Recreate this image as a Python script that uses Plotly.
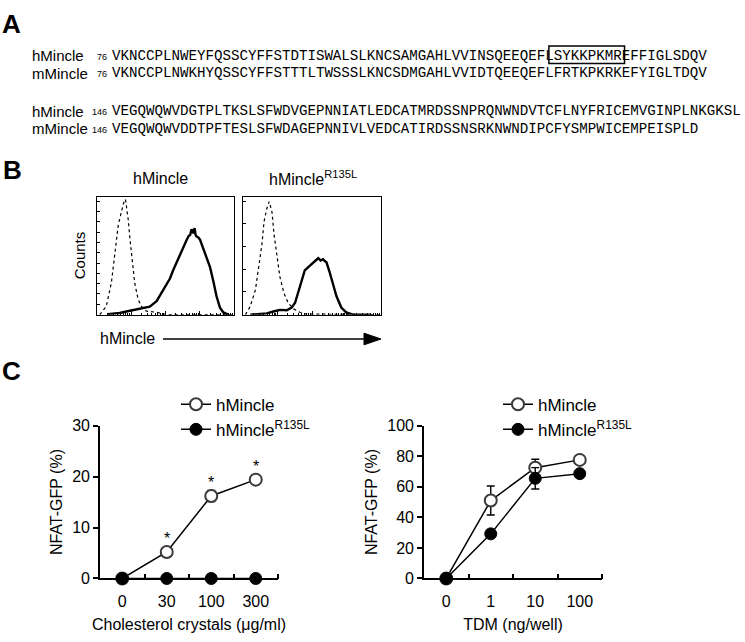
import plotly.graph_objects as go

W, H = 745, 642
def X(px): return px / W
def Y(py): return 1 - py / H

SANS = "Liberation Sans, Arial, Helvetica, sans-serif"
MONO = "Liberation Mono, Courier New, monospace"

# ---------------- Panel A data ----------------
seq_names = ["hMincle", "mMincle", "hMincle", "mMincle"]
seq_starts = ["76", "76", "146", "146"]
seq_texts = [
    "VKNCCPLNWEYFQSSCYFFSTDTISWALSLKNCSAMGAHLVVINSQEEQEFLSYKKPKMREFFIGLSDQV",
    "VKNCCPLNWKHYQSSCYFFSTTTLTWSSSLKNCSDMGAHLVVIDTQEEQEFLFRTKPKRKEFYIGLTDQV",
    "VEGQWQWVDGTPLTKSLSFWDVGEPNNIATLEDCATMRDSSNPRQNWNDVTCFLNYFRICEMVGINPLNKGKSL",
    "VEGQWQWVDDTPFTESLSFWDAGEPNNIVLVEDCATIRDSSNSRKNWNDIPCFYSMPWICEMPEISPLD",
]
boxed_motif = "LSYKKPKMR"

# ---------------- Panel B data (log10 intensity, % of max counts) ----------------
wt_iso_x = [0.08, 0.27, 0.42, 0.52, 0.62, 0.71, 0.78, 0.83, 0.91, 0.96, 1.02, 1.10, 1.20, 1.30, 1.44, 1.74, 2.03, 4.0]
wt_iso_y = [0, 7, 27, 54, 76, 87, 95, 98, 81, 65, 46, 27, 13, 7, 3, 2, 0, 0]
wt_stain_x = [0.32, 0.66, 0.96, 1.25, 1.54, 1.74, 1.88, 2.01, 2.13, 2.22, 2.34, 2.42, 2.52, 2.62, 2.68,
              2.72, 2.76, 2.81, 2.85, 2.88, 2.91, 2.96, 3.01, 3.10, 3.20, 3.30, 3.40, 3.49, 3.59, 3.69, 3.83]
wt_stain_y = [0.5, 1.4, 3.3, 5.2, 6.8, 11.5, 18.4, 23.8, 30.7, 37.5, 45.8, 51.3, 58.1, 63.6, 67.0,
              67.7, 72.5, 69.0, 73.5, 67.5, 66.3, 65.5, 63.6, 56.7, 48.5, 40.3, 27.9, 15.6, 6.0, 1.9, 0]
mut_iso_x = [0.07, 0.21, 0.36, 0.45, 0.55, 0.61, 0.69, 0.76, 0.84, 0.90, 0.98, 1.07, 1.19, 1.31, 1.46, 1.65, 1.84, 4.0]
mut_iso_y = [0, 7, 21, 38, 60, 79, 90, 96, 87, 68, 49, 32, 18, 10, 5, 2, 0.5, 0]
mut_stain_x = [0.21, 0.69, 0.88, 1.07, 1.27, 1.41, 1.51, 1.60, 1.70, 1.79, 1.94, 2.01, 2.08, 2.13,
               2.18, 2.25, 2.32, 2.37, 2.42, 2.51, 2.61, 2.71, 2.85, 2.99, 3.19, 3.47, 3.70]
mut_stain_y = [0, 1.1, 2.7, 4.1, 3.8, 6.0, 10.1, 18.4, 29.3, 37.5, 41.6, 43.5, 45.8, 46.5,
               47.9, 46.0, 47.1, 45.5, 44.4, 36.2, 26.6, 15.6, 6.0, 1.9, 0, 0, 0]

# ---------------- Panel C data ----------------
chol_labels = ["0", "30", "100", "300"]
chol_wt = [0.0, 5.2, 16.2, 19.4]
chol_wt_err = [0.2, 0.8, 1.1, 0.9]
chol_mut = [0.0, 0.0, 0.0, 0.0]
chol_mut_err = [0.1, 0.1, 0.1, 0.1]
chol_sig = [False, True, True, True]

tdm_labels = ["0", "1", "10", "100"]
tdm_wt = [0.0, 51.0, 72.5, 77.6]
tdm_wt_err = [0.5, 9.5, 5.5, 1.5]
tdm_mut = [0.0, 29.2, 65.5, 68.6]
tdm_mut_err = [0.5, 1.0, 7.0, 1.2]

fig = go.Figure()

# ---------------- Panel A ----------------
ann = []
shapes = []
row_y = [49, 67, 106, 124]
seq_x = 110
char_w = 8.5
mono_size = char_w / 0.6
for name, start, seq, yy in zip(seq_names, seq_starts, seq_texts, row_y):
    ann.append(dict(x=X(30), y=Y(yy), xref="paper", yref="paper", text=name, showarrow=False,
                    xanchor="left", yanchor="middle", font=dict(family=SANS, size=15, color="black")))
    ann.append(dict(x=X(109), y=Y(yy + 1), xref="paper", yref="paper", text=start, showarrow=False,
                    xanchor="right", yanchor="middle", font=dict(family=SANS, size=9, color="black")))
    ann.append(dict(x=X(seq_x), y=Y(yy), xref="paper", yref="paper", text=seq, showarrow=False,
                    xanchor="left", yanchor="middle", font=dict(family=MONO, size=mono_size, color="black")))
bi = seq_texts[0].find(boxed_motif)
shapes.append(dict(type="rect", xref="paper", yref="paper",
                   x0=X(seq_x + 2 + (bi + 0.4) * char_w), x1=X(seq_x + 2 + (bi + len(boxed_motif) + 0.3) * char_w),
                   y0=Y(57), y1=Y(39), line=dict(color="black", width=1.5)))

for letter, xx, yy in [("A", 0, 16), ("B", 1, 166), ("C", 0, 373)]:
    ann.append(dict(x=X(xx), y=Y(yy), xref="paper", yref="paper", text="<b>%s</b>" % letter, showarrow=False,
                    xanchor="left", yanchor="middle", font=dict(family=SANS, size=26, color="black")))

# ---------------- Panel B ----------------
for (ix, iy, sx, sy, xa, ya) in [(wt_iso_x, wt_iso_y, wt_stain_x, wt_stain_y, "x", "y"),
                                  (mut_iso_x, mut_iso_y, mut_stain_x, mut_stain_y, "x2", "y2")]:
    fig.add_trace(go.Scatter(x=[10 ** v for v in ix], y=iy, mode="lines", xaxis=xa, yaxis=ya,
                             line=dict(color="black", width=1.2, dash="dot"), showlegend=False, hoverinfo="skip"))
    fig.add_trace(go.Scatter(x=[10 ** v for v in sx], y=sy, mode="lines", xaxis=xa, yaxis=ya,
                             line=dict(color="black", width=2.4), showlegend=False, hoverinfo="skip"))

minor_log = [k * 10 ** e for e in range(4) for k in range(2, 10)]
bx_common = dict(type="log", range=[0, 4], showline=True, mirror=True, linecolor="black", linewidth=1.3,
                 showgrid=False, zeroline=False, showticklabels=False, ticks="inside", ticklen=4,
                 tickcolor="black", tickmode="array", tickvals=[1, 10, 100, 1000, 10000],
                 minor=dict(ticks="inside", ticklen=2, tickcolor="black", tickmode="array", tickvals=minor_log))
by_common = dict(range=[0, 100], showline=True, mirror=True, linecolor="black", linewidth=1.3,
                 showgrid=False, zeroline=False, showticklabels=False, ticks="inside", ticklen=3,
                 tickcolor="black", tick0=0)
b_y_dom = [Y(315), Y(194)]

ann.append(dict(x=X(160), y=Y(175), xref="paper", yref="paper", text="hMincle", showarrow=False,
                xanchor="center", yanchor="middle", font=dict(family=SANS, size=16, color="black")))
ann.append(dict(x=X(313), y=Y(175), xref="paper", yref="paper", text="hMincle<sup>R135L</sup>", showarrow=False,
                xanchor="center", yanchor="middle", font=dict(family=SANS, size=16, color="black")))
ann.append(dict(x=X(79), y=Y(254), xref="paper", yref="paper", text="Counts", showarrow=False, textangle=-90,
                xanchor="center", yanchor="middle", font=dict(family=SANS, size=15, color="black")))
ann.append(dict(x=X(98), y=Y(340), xref="paper", yref="paper", text="hMincle", showarrow=False,
                xanchor="left", yanchor="middle", font=dict(family=SANS, size=16, color="black")))
shapes.append(dict(type="line", xref="paper", yref="paper", x0=X(163), x1=X(368), y0=Y(340), y1=Y(340),
                   line=dict(color="black", width=1.3)))
shapes.append(dict(type="path", xref="paper", yref="paper",
                   path="M %f %f L %f %f L %f %f Z" % (X(364), Y(334), X(381), Y(340), X(364), Y(346)),
                   fillcolor="black", line=dict(color="black", width=1)))

# ---------------- Panel C ----------------
def add_c(xa, ya, wt, wt_err, mut, mut_err, legend):
    xs = [i + 0.5 for i in range(len(wt))]
    fig.add_trace(go.Scatter(x=xs, y=wt, mode="lines+markers", xaxis=xa, yaxis=ya, name="hMincle",
                             legend=legend, cliponaxis=False,
                             line=dict(color="black", width=1.5),
                             marker=dict(symbol="circle", size=12, color="white", line=dict(color="#3a3a3a", width=2)),
                             error_y=dict(type="data", array=wt_err, color="black", thickness=1.4, width=4)))
    fig.add_trace(go.Scatter(x=xs, y=mut, mode="lines+markers", xaxis=xa, yaxis=ya, name="hMincle<sup>R135L</sup>",
                             legend=legend, cliponaxis=False,
                             line=dict(color="black", width=1.5),
                             marker=dict(symbol="circle", size=12, color="black", line=dict(color="black", width=1)),
                             error_y=dict(type="data", array=mut_err, color="black", thickness=1.4, width=4)))

add_c("x3", "y3", chol_wt, chol_wt_err, chol_mut, chol_mut_err, "legend")
add_c("x4", "y4", tdm_wt, tdm_wt_err, tdm_mut, tdm_mut_err, "legend2")

for i, (v, e, s) in enumerate(zip(chol_wt, chol_wt_err, chol_sig)):
    if s:
        ann.append(dict(x=i + 0.5, y=v, xref="x3", yref="y3", text="*", showarrow=False, yshift=13,
                        xanchor="center", yanchor="middle", font=dict(family=SANS, size=16, color="black")))

def cx(labels, title):
    return dict(range=[0, len(labels)], showline=True, linecolor="black", linewidth=1.6, showgrid=False,
                zeroline=False, tickmode="array", tickvals=[i + 0.5 for i in range(len(labels))],
                ticktext=labels, ticks="", ticklabelstandoff=8, tickfont=dict(family=SANS, size=16, color="black"),
                minor=dict(tickmode="array", tickvals=[i + 1 for i in range(len(labels))], ticks="inside",
                           ticklen=5, tickcolor="black", tickwidth=1.5),
                title=dict(text=title, font=dict(family=SANS, size=16, color="black"), standoff=9))

def cy(rng, dt):
    return dict(range=rng, showline=True, linecolor="black", linewidth=1.6, showgrid=False, zeroline=False,
                tickmode="linear", tick0=0, dtick=dt, ticks="outside", ticklen=5, tickwidth=1.5,
                tickcolor="black", tickfont=dict(family=SANS, size=16, color="black"),
                title=dict(text="NFAT-GFP (%)", font=dict(family=SANS, size=16, color="black"), standoff=6))

c_y_dom = [Y(586), Y(429)]

fig.update_layout(
    width=W, height=H, margin=dict(l=0, r=0, t=0, b=0),
    paper_bgcolor="white", plot_bgcolor="white",
    font=dict(family=SANS, color="black"),
    xaxis=dict(domain=[X(97), X(234)], anchor="y", **bx_common),
    yaxis=dict(domain=b_y_dom, anchor="x", dtick=8.77, **by_common),
    xaxis2=dict(domain=[X(243), X(381)], anchor="y2", **bx_common),
    yaxis2=dict(domain=b_y_dom, anchor="x2", dtick=19.28, **by_common),
    xaxis3=dict(domain=[X(100), X(278)], anchor="y3", **cx(chol_labels, "Cholesterol crystals (\u03bcg/ml)")),
    yaxis3=dict(domain=c_y_dom, anchor="x3", **cy([0, 30], 10)),
    xaxis4=dict(domain=[X(424), X(602)], anchor="y4", **cx(tdm_labels, "TDM (ng/well)")),
    yaxis4=dict(domain=c_y_dom, anchor="x4", **cy([0, 100], 20)),
    legend=dict(x=X(176), y=Y(389), xanchor="left", yanchor="top", bgcolor="rgba(0,0,0,0)",
                font=dict(family=SANS, size=17, color="black"), itemwidth=30, tracegroupgap=4,
                traceorder="normal"),
    legend2=dict(x=X(498), y=Y(389), xanchor="left", yanchor="top", bgcolor="rgba(0,0,0,0)",
                 font=dict(family=SANS, size=17, color="black"), itemwidth=30, tracegroupgap=4,
                 traceorder="normal"),
    annotations=ann, shapes=shapes,
)

fig.write_html("out.html", config={"displayModeBar": False},
               post_script="document.body.style.margin='0';document.body.style.padding='0';")
